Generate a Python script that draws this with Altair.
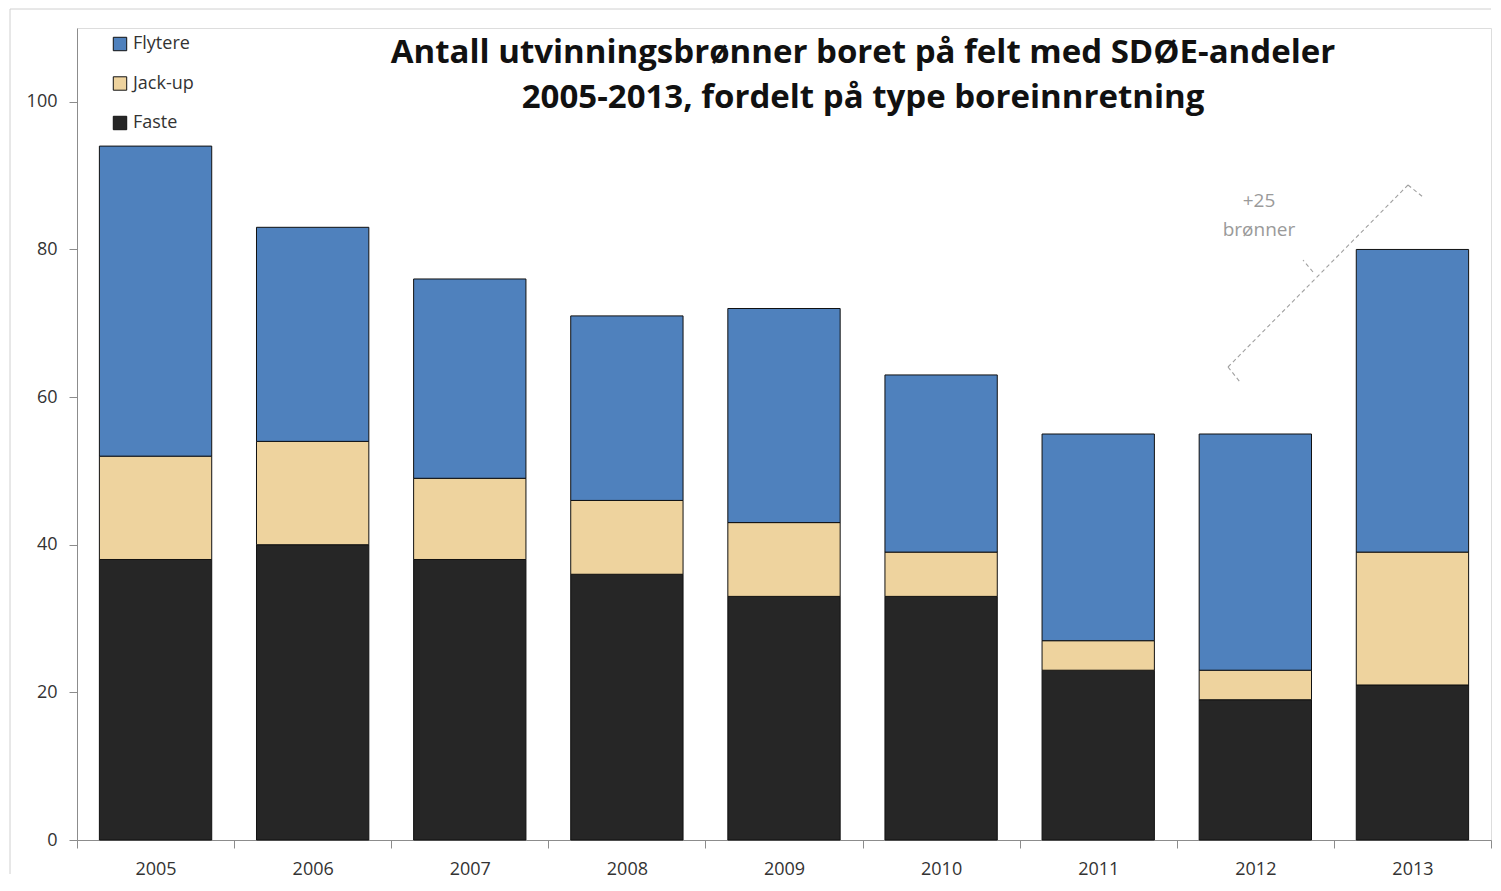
import altair as alt
import pandas as pd

years = ["2005", "2006", "2007", "2008", "2009", "2010", "2011", "2012", "2013"]
faste = [38, 40, 38, 36, 33, 33, 23, 19, 21]
jackup = [14, 14, 11, 10, 10, 6, 4, 4, 18]
flytere = [42, 29, 27, 25, 29, 24, 28, 32, 41]

series_names = ["Flytere", "Jack-up", "Faste"]
series_colors = ["#4F81BD", "#EED39E", "#262626"]
stack_order = {"Faste": 0, "Jack-up": 1, "Flytere": 2}

title_lines = ["Antall utvinningsbrønner boret på felt med SDØE-andeler",
               "2005-2013, fordelt på type boreinnretning"]
note_lines = ["+25", "brønner"]

rows = []
for i, y in enumerate(years):
    for name, vals in (("Faste", faste), ("Jack-up", jackup), ("Flytere", flytere)):
        rows.append({"year": y, "type": name, "value": vals[i], "ord": stack_order[name]})
df = pd.DataFrame(rows)

W, H = 1414, 812

bars = alt.Chart(df).mark_bar(stroke="#111111", strokeWidth=1,
                              width=alt.RelativeBandSize(0.715)).encode(
    x=alt.X("year:N", sort=years,
            scale=alt.Scale(paddingInner=0, paddingOuter=0),
            axis=alt.Axis(title=None, labelAngle=0, tickBand="extent", tickSize=8,
                          labelPadding=12, labelFontSize=18, labelFont="Open Sans",
                          labelColor="#333333", domainColor="#8c8c8c", tickColor="#8c8c8c",
                          grid=False)),
    y=alt.Y("value:Q", stack="zero",
            scale=alt.Scale(domain=[0, 110], nice=False),
            axis=alt.Axis(title=None, values=[0, 20, 40, 60, 80, 100], tickSize=8,
                          labelPadding=12, labelFontSize=18, labelFont="Open Sans",
                          labelColor="#333333", domainColor="#8c8c8c", tickColor="#8c8c8c",
                          grid=False, minExtent=50, maxExtent=50)),
    fill=alt.Fill("type:N",
                  scale=alt.Scale(domain=series_names, range=series_colors),
                  legend=alt.Legend(title=None, orient="none", legendX=34, legendY=7,
                                    symbolType="square", symbolSize=180,
                                    symbolStrokeColor="#111111", symbolStrokeWidth=1,
                                    labelFontSize=18, labelFont="Open Sans",
                                    labelColor="#333333", rowPadding=21.5, labelOffset=4)),
    order=alt.Order("ord:Q"),
)

title_df = pd.DataFrame({"t": title_lines, "i": [0, 1]})
title = alt.Chart(title_df).mark_text(
    font="Open Sans", fontSize=33, fontWeight="bold", color="#111111",
    align="center", baseline="alphabetic"
).encode(
    text="t:N",
    x=alt.value(786),
    y=alt.Y("i:Q", scale=alt.Scale(domain=[0, 1], range=[35, 80]), axis=None),
)

note_df = pd.DataFrame({"t": note_lines, "i": [0, 1]})
note = alt.Chart(note_df).mark_text(
    font="Open Sans", fontSize=19, color="#9a9a9a", align="center", baseline="middle"
).encode(
    text="t:N",
    x=alt.value(1182),
    y=alt.Y("i:Q", scale=alt.Scale(domain=[0, 1], range=[173, 202]), axis=None),
)

def seg(x1, y1, x2, y2, dash=True, color="#a0a0a0", width=1.1):
    m = alt.Chart(pd.DataFrame({"a": [0]})).mark_rule(
        color=color, strokeWidth=width, strokeDash=[4, 3] if dash else [1, 0]
    )
    return m.encode(x=alt.value(x1), y=alt.value(y1), x2=alt.value(x2), y2=alt.value(y2))

bracket = (seg(1151, 339, 1331, 157) + seg(1151, 339, 1163, 354)
           + seg(1331, 157, 1346, 169) + seg(1236, 244, 1226, 232))

border = (seg(-67, -19, -67, 846, dash=False, color="#d0d0d0", width=1)
          + seg(-67, -19, W, -19, dash=False, color="#d0d0d0", width=1))

chart = alt.layer(border, bars, title, note, bracket).resolve_scale(y="independent").properties(
    width=W, height=H,
    padding={"left": 1, "top": 0, "right": 0, "bottom": 0},
).configure_view(stroke=None).configure(background="white")

chart.save("out.html", embed_options={"renderer": "svg", "actions": False})
